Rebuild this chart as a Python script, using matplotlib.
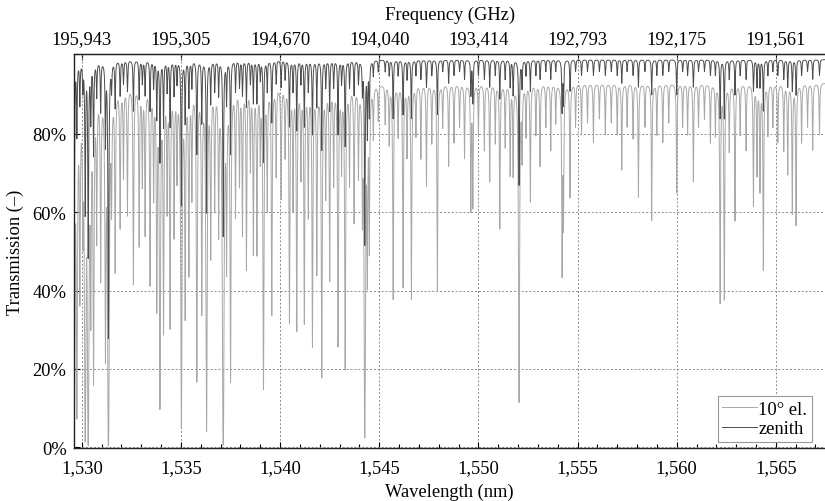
import numpy as np
import matplotlib
matplotlib.use("Agg")
import matplotlib.pyplot as plt
from matplotlib.ticker import MultipleLocator, FuncFormatter

# ---------------- data ----------------
# absorption line centres (nm)
line_wl = [
    1529.62, 1529.75, 1529.90, 1530.05, 1530.17, 1530.32, 1530.45, 1530.59, 1530.75, 1530.95,
    1531.19, 1531.34, 1531.50, 1531.68, 1531.93, 1532.10, 1532.30, 1532.60, 1532.89, 1533.05,
    1533.19, 1533.44, 1533.62, 1533.78, 1533.94, 1534.12, 1534.30, 1534.45, 1534.65, 1534.80,
    1535.02, 1535.21, 1535.40, 1535.55, 1535.80, 1536.05, 1536.29, 1536.50, 1536.70, 1536.90,
    1537.13, 1537.30, 1537.50, 1537.75, 1537.95, 1538.10, 1538.30, 1538.50, 1538.65, 1538.83,
    1539.00, 1539.16, 1539.35, 1539.58, 1539.80, 1540.05, 1540.25, 1540.47, 1540.65, 1540.84,
    1541.05, 1541.22, 1541.42, 1541.63, 1541.85, 1542.10, 1542.30, 1542.50, 1542.70, 1542.92,
    1543.10, 1543.28, 1543.50, 1543.73, 1543.95, 1544.15, 1544.27, 1544.40, 1544.50, 1544.70,
    1544.95, 1545.30, 1545.50, 1545.70, 1545.95, 1546.20, 1546.40, 1546.62, 1546.85, 1547.10,
    1547.38, 1547.65, 1547.93, 1548.20, 1548.50, 1548.77, 1549.05, 1549.30, 1549.62, 1549.72,
    1550.00, 1550.30, 1550.57, 1550.85, 1551.08, 1551.35, 1551.60, 1551.75, 1552.05, 1552.20,
    1552.40, 1552.62, 1552.90, 1553.11, 1553.40, 1553.65, 1553.90, 1554.22, 1554.29, 1554.62,
    1554.90, 1555.20, 1555.50, 1555.80, 1556.10, 1556.40, 1556.70, 1557.00, 1557.23, 1557.50,
    1557.80, 1558.07, 1558.40, 1558.74, 1559.00, 1559.30, 1559.60, 1560.00, 1560.30, 1560.55,
    1560.84, 1561.10, 1561.40, 1561.70, 1561.95, 1562.19, 1562.40, 1562.65, 1562.94, 1563.20,
    1563.50, 1563.87, 1564.05, 1564.20, 1564.37, 1564.60, 1564.85, 1565.10, 1565.40, 1565.60,
    1565.83, 1566.02, 1566.30, 1566.60, 1566.86, 1567.20,
]
# minimum transmission (%) at each line, 10 degree elevation
el_min = [
    5, 8, 40, 60, 1.5, 0.5, 36, 17, 55, 44,
    24, 0.3, 65, 46, 57, 70, 60, 42, 52, 68,
    55, 42, 65, 36, 10, 30, 62, 31, 55, 70,
    5, 34, 45, 65, 17, 35, 4, 50, 62, 56,
    0.5, 48, 17, 60, 68, 55, 46, 72, 50, 50,
    75, 15, 62, 34, 70, 64, 75, 32, 62, 30,
    70, 32, 60, 26, 45, 18, 65, 43, 68, 26,
    72, 20, 68, 58, 70, 62, 2.5, 45, 52, 80,
    84, 83, 78, 38, 80, 41, 75, 38, 80, 74,
    67, 78, 40, 82, 72, 78, 82, 74, 61, 62,
    80, 76, 68, 78, 56, 77, 70, 70, 11.5, 75,
    80, 63, 80, 72, 82, 76, 83, 45, 58, 64,
    82, 80, 83, 78, 84, 80, 83, 80, 71, 82,
    79, 64, 82, 58, 80, 78, 83, 65, 82, 80,
    68, 82, 84, 78, 80, 37, 38, 76, 58, 80,
    76, 62, 70, 66, 45.5, 80, 82, 78, 76, 70,
    60, 57, 78, 82, 76, 80,
]
# minimum transmission (%) at each line, zenith
zen_min = [
    62, 80, 88, 92, 60, 49, 84, 75, 90, 86,
    78, 28, 92, 87, 90, 93, 91, 86, 89, 93,
    90, 86, 92, 84, 73, 82, 91, 82, 90, 93,
    62, 83, 87, 92, 75, 83, 60, 88, 91, 90,
    54, 88, 75, 91, 92, 90, 87, 93, 88, 88,
    94, 73, 91, 83, 93, 92, 94, 82, 91, 81,
    93, 82, 91, 80, 87, 76, 92, 86, 92, 80,
    93, 77, 92, 90, 93, 91, 52, 80, 85, 95,
    96, 96, 95, 84, 95, 85, 94, 84, 95, 94,
    92, 95, 85, 96, 93, 95, 96, 94, 90, 88,
    95, 94, 92, 95, 89, 94, 92, 90, 67, 92,
    95, 91, 95, 94, 96, 94, 96, 86, 88, 91,
    96, 95, 96, 95, 96, 95, 96, 95, 93, 96,
    95, 92, 96, 90, 95, 95, 96, 90, 96, 95,
    92, 96, 96, 95, 95, 84, 84, 94, 90, 95,
    94, 91, 92, 92, 86, 95, 96, 95, 94, 92,
    91, 90, 95, 96, 94, 95,
]
el_continuum = 93.0    # % transmission away from lines
zen_continuum = 99.0
line_hwhm = 0.02       # nm

series_names = ["10\u00b0 el.", "zenith"]
series_colors = ["#a8a8a8", "#4d4d4d"]

wl_ticks = [1530, 1535, 1540, 1545, 1550, 1555, 1560, 1565]
freq_labels = ["195,943", "195,305", "194,670", "194,040",
               "193,414", "192,793", "192,175", "191,561"]
y_ticks = [0, 20, 40, 60, 80]

# ---------------- spectrum from the line list ----------------
wl = np.arange(1529.4, 1567.6, 0.002)
c = np.array(line_wl)[:, None]
prof = 1.0 / (1.0 + ((wl[None, :] - c) / line_hwhm) ** 2)


def spectrum(mins, cont):
    tau = np.log(cont / np.array(mins, dtype=float))
    return cont * np.exp(-(tau[:, None] * prof).sum(axis=0))


t_el = spectrum(el_min, el_continuum)
t_zen = spectrum(zen_min, zen_continuum)

# ---------------- figure ----------------
plt.rcParams["font.family"] = ["Liberation Serif", "DejaVu Serif"]
plt.rcParams["font.size"] = 13.3

fig = plt.figure(figsize=(8.25, 5.02), dpi=100)
ax = fig.add_axes([73.5 / 825, 1 - 449 / 502, (826 - 73.5) / 825, (449 - 55) / 502])

ax.plot(wl, t_el, color=series_colors[0], lw=0.7, label=series_names[0])
ax.plot(wl, t_zen, color=series_colors[1], lw=0.7, label=series_names[1])

ax.set_xlim(1529.58, 1567.53)
ax.set_ylim(-0.2, 100.4)
ax.set_xticks(wl_ticks)
ax.xaxis.set_minor_locator(MultipleLocator(1))
ax.xaxis.set_major_formatter(FuncFormatter(lambda v, p: f"{v:,.0f}"))
ax.set_yticks(y_ticks)
ax.yaxis.set_major_formatter(FuncFormatter(lambda v, p: f"{v:.0f}%"))
ax.tick_params(axis="both", which="both", direction="in", top=False, right=False)
ax.tick_params(axis="x", which="major", length=4, width=0.8, pad=8)
ax.tick_params(axis="y", which="major", length=4, width=0.8, pad=5)
ax.tick_params(which="minor", length=3, width=0.8)
ax.grid(True, which="major", linestyle=(0, (2, 2)), color="#8a8a8a", lw=0.7)
for s in ax.spines.values():
    s.set_linewidth(1.0)
    s.set_color("#222222")

ax.set_xlabel("Wavelength (nm)", labelpad=5)
ax.set_ylabel("Transmission (\u2013)", labelpad=6)

top = ax.secondary_xaxis("top")
top.set_xticks(wl_ticks)
top.set_xticklabels(freq_labels)
top.tick_params(direction="in", length=4, width=0.8, pad=5)
top.set_xlabel("Frequency (GHz)", labelpad=8)

leg = ax.legend(loc="lower right", bbox_to_anchor=(812 / 825, 0.0),
                bbox_transform=fig.transFigure,
                fancybox=False, framealpha=1, edgecolor="#999999",
                borderpad=0.25, handlelength=1.9, handletextpad=0.05, labelspacing=0.15,
                borderaxespad=0.0)
leg.set_bbox_to_anchor((812 / 825, 1 - 443 / 502), transform=fig.transFigure)
leg.get_frame().set_linewidth(0.8)

fig.savefig("out.png", dpi=100)
